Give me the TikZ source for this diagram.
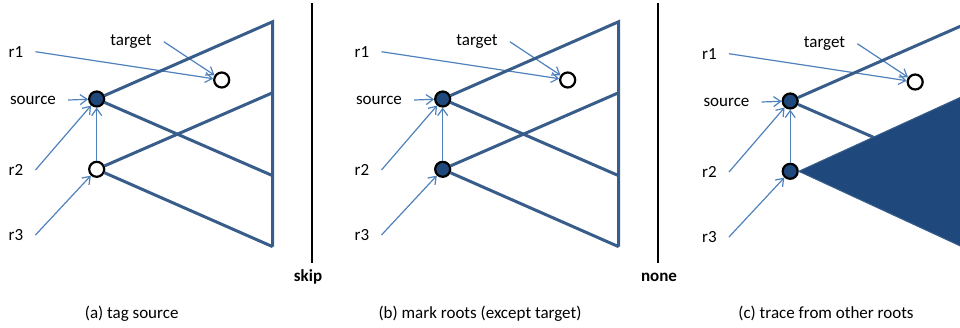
\documentclass[tikz,border=0pt]{standalone}
\usepackage{fontspec}
\setmainfont{Carlito}
\usepackage{tikz}
\usetikzlibrary{arrows.meta}
\definecolor{treeBlue}{RGB}{56,93,138}
\definecolor{rootBlue}{RGB}{31,73,125}
\definecolor{ptrBlue}{RGB}{79,129,189}
\tikzset{>={Straight Barb[length=7pt,width=10pt]}}

\begin{document}
\begin{tikzpicture}[x=1pt,y=-1pt,
    treeLine/.style={draw=treeBlue,line width=3pt},
    ptrArrow/.style={->,draw=ptrBlue,line width=1.2pt},
    rootNode/.style={circle,draw=black,line width=2.2pt,fill=#1,minimum size=15pt,inner sep=0pt},
    rootNode/.default=white,
    lbl/.style={inner xsep=12pt,inner ysep=0pt,font=\fontsize{17}{20}\selectfont},
    sepLine/.style={draw=black,line width=1.6pt}]
  \useasboundingbox (0,0) rectangle (960,327);
  \clip (0,0) rectangle (960,327);
  % Draw labels, roots and pointers of each panel
  \foreach \p/\dx/\dy/\rootFill in {a/0/0/white, b/346/0/rootBlue, c/693.5/2/rootBlue} {
    \begin{scope}[shift={(\dx,\dy)}]
      \node[rootNode=rootBlue] (src\p) at (96.7,99) {};
      \node[rootNode=\rootFill] (rtwo\p) at (96.7,169.3) {};
      \node[rootNode] (tgt\p) at (221.7,80) {};
      \node[lbl] (rone\p lbl) at (16,51.7) {r1};
      \node[lbl] (src\p lbl) at (33,100) {source};
      \node[lbl] (rtwo\p lbl) at (16,170) {r2};
      \node[lbl] (rthree\p lbl) at (16,235) {r3};
      \node[lbl] (tgt\p lbl) at (131,41.7) {target};
      \coordinate (top\p) at (272.7,21.7);
      \coordinate (midone\p) at (272.7,92.7);
      \coordinate (midtwo\p) at (272.7,175.7);
      \coordinate (bot\p) at (272.7,246.7);
      \draw[ptrArrow] (rone\p lbl.east) -- (tgt\p);
      \draw[ptrArrow] (tgt\p lbl.east) -- (tgt\p);
      \draw[ptrArrow] (src\p lbl.east) -- (src\p);
      \draw[ptrArrow] (rtwo\p lbl.east) -- (src\p);
      \draw[ptrArrow] (rthree\p lbl.east) -- (rtwo\p);
      \draw[ptrArrow] (rtwo\p) -- (src\p);
    \end{scope}
  }
  % Draw the trees
  \foreach \p in {a,b} {
    \draw[treeLine] (src\p) -- (top\p) -- (bot\p);
    \draw[treeLine] (src\p) -- (midtwo\p);
    \draw[treeLine] (rtwo\p) -- (midone\p);
    \draw[treeLine] (rtwo\p) -- (bot\p);
  }
  \draw[treeLine] (srcc) -- (topc);
  \draw[treeLine] (srcc) -- (midtwoc);
  \filldraw[fill=rootBlue,draw=treeBlue,line width=1pt] (rtwoc.east) -- (midonec) -- (botc) -- cycle;
  % Draw separators and captions
  \draw[sepLine] (311.7,3.3) -- (311.7,262.7);
  \draw[sepLine] (658,3.3) -- (658,262.7);
  \node[font=\fontsize{17}{20}\selectfont\bfseries] (skipLbl) at (308,277) {skip};
  \node[font=\fontsize{17}{20}\selectfont\bfseries] (noneLbl) at (659,277) {none};
  \node[font=\fontsize{17}{20}\selectfont] (capA) at (131.7,313.3) {(a) tag source};
  \node[font=\fontsize{17}{20}\selectfont] (capB) at (480,313.3) {(b) mark roots (except target)};
  \node[font=\fontsize{17}{20}\selectfont] (capC) at (826,313.3) {(c) trace from other roots};
\end{tikzpicture}
\end{document}
